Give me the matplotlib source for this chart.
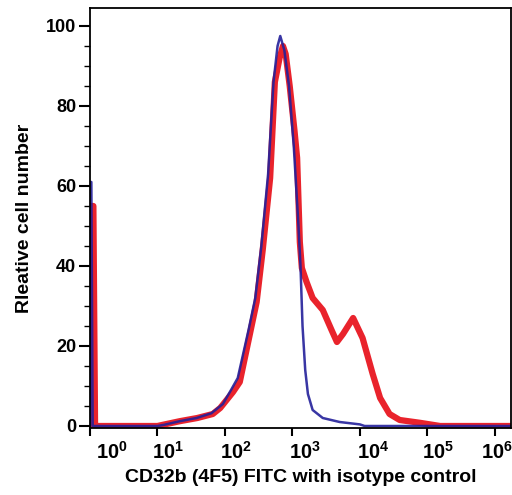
import numpy as np
import matplotlib.pyplot as plt
from matplotlib.ticker import LogLocator, MultipleLocator, NullFormatter
from matplotlib.transforms import offset_copy

plt.rcParams['font.family'] = ['Liberation Sans', 'DejaVu Sans']
plt.rcParams['font.weight'] = 'bold'
plt.rcParams['mathtext.fontset'] = 'custom'
plt.rcParams['mathtext.rm'] = 'Liberation Sans:bold'
plt.rcParams['mathtext.it'] = 'Liberation Sans:bold'
plt.rcParams['mathtext.bf'] = 'Liberation Sans:bold'

# isotype control (blue), log10 of fluorescence vs relative count
blue_log_x = [0.0, 0.005, 0.02, 0.04, 0.5, 1.0, 1.1, 1.33, 1.58, 1.80, 1.97, 2.09, 2.19,
              2.35, 2.45, 2.54, 2.64, 2.72, 2.78, 2.82, 2.88, 2.95, 3.02, 3.09, 3.12,
              3.15, 3.19, 3.23, 3.30, 3.45, 3.70, 4.00, 4.07, 6.3]
blue_y = [0, 61, 61, 0, 0, 0, 0.3, 1.2, 2.0, 3.2, 5.5, 9, 12,
          24, 32, 45, 63, 86, 95, 97.5, 94, 85, 70, 50, 40,
          25, 14, 8, 4, 2, 1.0, 0.4, 0, 0]

# CD32b (4F5) FITC (red)
red_log_x = [0.0, 0.015, 0.05, 0.075, 0.5, 1.0, 1.08, 1.33, 1.59, 1.82, 1.93, 2.12, 2.22,
             2.37, 2.47, 2.56, 2.67, 2.74, 2.81, 2.86, 2.90, 2.96, 3.03, 3.07, 3.11,
             3.14, 3.21, 3.30, 3.45, 3.58, 3.66, 3.75, 3.90, 4.04, 4.19, 4.30, 4.44,
             4.59, 4.89, 5.19, 6.3]
red_y = [0, 55, 55, 0, 0, 0, 0.3, 1.2, 2.0, 3.0, 4.5, 8.5, 11,
         23, 31, 44, 62, 86, 92, 95, 93, 85, 74, 67, 46,
         39.5, 36, 32, 29, 24, 21, 23, 27, 22, 13, 7, 3,
         1.5, 0.8, 0, 0]

x_major = [1, 10, 100, 1e3, 1e4, 1e5, 1e6]
x_labels = ['$10^{0}$', '$10^{1}$', '$10^{2}$', '$10^{3}$', '$10^{4}$', '$10^{5}$', '$10^{6}$']
x_label_shift = [22, 11, 11, 13, 13, 11, 2]
y_major = [0, 20, 40, 60, 80, 100]

fig = plt.figure(figsize=(5.12, 4.95), dpi=100)
ax = fig.add_axes([90 / 512, 67 / 495, 421 / 512, 420 / 495])

ax.plot(10 ** np.array(red_log_x), red_y, color='#e8101a', linewidth=4.5, alpha=0.92,
        solid_joinstyle='round', solid_capstyle='round')
ax.plot(10 ** np.array(blue_log_x), blue_y, color='#23209a', linewidth=1.8, alpha=0.9)

ax.set_xscale('log')
ax.set_xlim(1, 10 ** 6.24)
ax.set_ylim(-0.5, 104.5)

ax.set_xticks(x_major)
ax.set_xticklabels(x_labels)
ax.xaxis.set_minor_locator(LogLocator(base=10, subs=np.arange(2, 10)))
ax.xaxis.set_minor_formatter(NullFormatter())
ax.set_yticks(y_major)
ax.yaxis.set_minor_locator(MultipleLocator(5))

ax.tick_params(axis='x', which='major', length=6, width=1.5, labelsize=14.5, pad=3)
ax.tick_params(axis='x', which='minor', length=3, width=1.0)
ax.tick_params(axis='y', which='major', length=8, width=1.5, labelsize=13, pad=2)
ax.tick_params(axis='y', which='minor', length=4, width=1.0)
for lab, dx in zip(ax.get_xticklabels(), x_label_shift):
    lab.set_transform(offset_copy(lab.get_transform(), fig=fig, x=dx, y=0, units='dots'))

for s in ax.spines.values():
    s.set_linewidth(1.3)

ax.set_xlabel('CD32b (4F5) FITC with isotype control', fontsize=14, fontweight='bold', labelpad=5)
ax.set_ylabel('Rleative cell number', fontsize=14, fontweight='bold', labelpad=9)

fig.savefig('out.png', dpi=100)
